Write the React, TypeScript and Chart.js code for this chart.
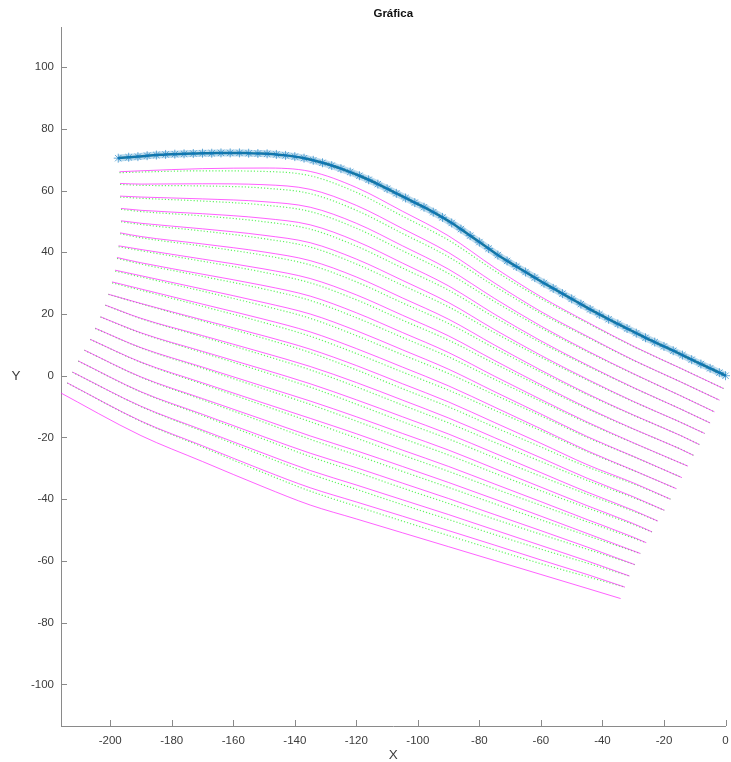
import React, { useEffect, useRef } from 'react';
import { Chart, registerables } from 'chart.js';

Chart.register(...registerables);

const TITLE = 'Gráfica';
const X_LABEL = 'X';
const Y_LABEL = 'Y';

const X_RANGE = [-216, 0];
const Y_RANGE = [-113.5, 113];
const X_TICKS = [-200, -180, -160, -140, -120, -100, -80, -60, -40, -20, 0];
const Y_TICKS = [-100, -80, -60, -40, -20, 0, 20, 40, 60, 80, 100];

// Main trajectory (blue asterisks)
const BASE_X = [-197.4, -194, -191, -188, -185, -182, -179, -176, -173, -170, -167, -164, -161, -158, -155, -152, -149, -146, -143, -140, -137, -134, -131, -128, -125, -122, -119, -116, -113, -110, -107, -104, -101, -98, -95, -92, -89, -86, -83, -80, -77, -74, -71, -68, -65, -62, -59, -56, -53, -50, -47, -44, -41, -38, -35, -32, -29, -26, -23, -20, -17, -14, -11, -8, -5, -2, 0];
const BASE_Y = [70.5, 70.8, 71.0, 71.3, 71.5, 71.7, 71.8, 71.9, 72.0, 72.1, 72.1, 72.2, 72.2, 72.2, 72.1, 72.0, 71.9, 71.7, 71.4, 71.0, 70.5, 69.8, 69.0, 68.1, 67.1, 66.0, 64.8, 63.5, 62.1, 60.6, 59.1, 57.6, 56.1, 54.6, 53.0, 51.3, 49.5, 47.5, 45.4, 43.3, 41.2, 39.1, 37.2, 35.4, 33.6, 31.8, 30.0, 28.3, 26.6, 24.9, 23.2, 21.5, 19.9, 18.3, 16.8, 15.3, 13.8, 12.3, 10.9, 9.5, 8.1, 6.7, 5.2, 3.8, 2.4, 1.0, 0.0];

// Offset lines (magenta): start point, values at shared x columns, end point
const LINE_COLS = [-190, -170, -150, -135, -120, -105, -90, -75, -60, -45, -30, -15];
const LINE_STARTS = [
  [-197.0, 66.1], [-196.8, 62.3], [-196.8, 58.2], [-196.5, 54.2], [-196.5, 50.2],
  [-196.8, 46.3], [-197.3, 42.1], [-197.8, 38.3], [-198.4, 34.2], [-199.4, 30.4],
  [-200.6, 26.4], [-201.6, 22.9], [-203.2, 19.1], [-204.9, 15.4], [-206.5, 11.8],
  [-208.4, 8.3], [-210.4, 4.8], [-212.3, 1.2], [-214.0, -2.3], [-217.5, -4.8],
];
const LINE_ENDS = [
  [-0.65, -4.15], [-2.0, -7.9], [-3.6, -11.7], [-5.0, -15.3], [-6.8, -18.7],
  [-8.5, -22.3], [-10.4, -25.8], [-12.2, -29.3], [-14.2, -33.0], [-16.0, -36.6],
  [-17.9, -40.0], [-19.9, -43.6], [-22.0, -47.1], [-23.9, -50.6], [-25.8, -54.1],
  [-27.7, -57.6], [-29.5, -61.2], [-31.2, -64.9], [-32.7, -68.5], [-34.1, -72.2],
];
const LINE_VALUES: (number | null)[][] = [
  [66.4, 67.1, 67.3, 66.2, 61.0, 53.3, 45.3, 35.0, 25.6, 17.4, 9.6, 2.6],
  [62.1, 62.2, 61.9, 60.4, 55.2, 47.7, 39.9, 30.0, 20.8, 12.8, 5.1, -1.8],
  [57.9, 57.3, 56.4, 54.6, 49.4, 42.1, 34.5, 25.0, 16.1, 8.1, 0.7, -6.3],
  [53.6, 52.5, 51.0, 48.9, 43.6, 36.5, 29.1, 19.9, 11.3, 3.5, -3.8, -10.6],
  [49.4, 47.6, 45.5, 43.1, 37.8, 30.9, 23.7, 14.9, 6.6, -1.1, -8.3, -14.9],
  [45.1, 42.7, 40.1, 37.3, 32.0, 25.2, 18.3, 9.9, 1.8, -5.8, -12.7, -19.2],
  [40.9, 37.8, 34.6, 31.5, 26.2, 19.6, 12.9, 4.9, -2.9, -10.4, -17.2, -23.6],
  [36.6, 32.9, 29.2, 25.8, 20.4, 14.0, 7.5, -0.2, -7.7, -15.0, -21.7, null],
  [32.4, 28.1, 23.7, 20.0, 14.6, 8.4, 2.1, -5.2, -12.4, -19.7, -26.1, null],
  [28.1, 23.2, 18.3, 14.2, 8.8, 2.8, -3.3, -10.2, -17.2, -24.3, -30.6, null],
  [23.4, 18.1, 12.9, 8.6, 3.3, -2.6, -8.5, -15.2, -21.9, -28.8, -34.7, null],
  [18.6, 13.0, 7.4, 3.0, -2.2, -7.9, -13.7, -20.1, -26.6, -33.2, -39.2, null],
  [13.9, 7.9, 2.0, -2.6, -7.8, -13.3, -18.9, -25.1, -31.4, -37.7, -43.6, null],
  [9.1, 2.8, -3.5, -8.2, -13.3, -18.7, -24.1, -30.1, -36.1, -42.1, -47.9, null],
  [4.4, -2.3, -8.9, -13.8, -18.8, -24.1, -29.4, -35.1, -40.8, -46.6, -52.3, null],
  [-0.4, -7.4, -14.3, -19.5, -24.3, -29.4, -34.6, -40.0, -45.5, -51.1, null, null],
  [-5.2, -12.5, -19.8, -25.1, -29.8, -34.8, -39.8, -45.0, -50.2, -55.5, null, null],
  [-9.9, -17.6, -25.2, -30.7, -35.4, -40.2, -45.0, -50.0, -55.0, -60.0, null, null],
  [-14.7, -22.7, -30.7, -36.3, -40.9, -45.5, -50.2, -54.9, -59.7, -64.4, null, null],
  [-19.4, -27.8, -36.1, -41.9, -46.4, -50.9, -55.4, -59.9, -64.4, -68.9, null, null],
];

// Green dotted companions: how far each sits below its magenta line (same columns)
const GREEN_GAP_UPPER = [0.4, 0.7, 1.1, 1.4, 1.6, 1.6, 1.4, 1.0, 0.6, 0.3, 0.1, 0.0];
const GREEN_GAP_LOWER = [0.1, 0.4, 0.8, 1.1, 1.4, 1.6, 1.6, 1.5, 1.2, 0.7, 0.3, 0.0];
const GREEN_START_GAP_UPPER = 0.3;
const GREEN_START_GAP_LOWER = 0.05;
const GREEN_COUNT = 19;

const FONT = '"Liberation Sans", Arial, Helvetica, sans-serif';
const AXIS_COLOR = '#8a8a8a';
const TEXT_COLOR = '#3c3c3c';

const decorPlugin = {
  id: 'decor',
  afterDraw(chart: any) {
    const { ctx, chartArea: a, scales } = chart;
    ctx.save();
    ctx.strokeStyle = AXIS_COLOR;
    ctx.lineWidth = 1;
    ctx.beginPath();
    X_TICKS.forEach((v) => {
      const px = Math.round(scales.x.getPixelForValue(v)) + 0.5;
      ctx.moveTo(px, a.bottom);
      ctx.lineTo(px, a.bottom - 6);
    });
    Y_TICKS.forEach((v) => {
      const py = Math.round(scales.y.getPixelForValue(v)) + 0.5;
      ctx.moveTo(a.left, py);
      ctx.lineTo(a.left + 6, py);
    });
    ctx.stroke();
    ctx.textAlign = 'center';
    ctx.textBaseline = 'middle';
    ctx.fillStyle = '#111';
    ctx.font = `bold 11.5px ${FONT}`;
    ctx.fillText(TITLE, (a.left + a.right) / 2, 14);
    ctx.fillStyle = TEXT_COLOR;
    ctx.font = `13.5px ${FONT}`;
    ctx.fillText(X_LABEL, (a.left + a.right) / 2, 755);
    ctx.fillText(Y_LABEL, 16, (a.top + a.bottom) / 2);
    ctx.restore();
  },
};

export default function App() {
  const ref = useRef<HTMLCanvasElement>(null);
  useEffect(() => {
    document.body.style.margin = '0';
    const datasets: any[] = [];
    const magenta: any[] = [];
    const green: any[] = [];
    LINE_VALUES.forEach((vals, i) => {
      const pts = [{ x: LINE_STARTS[i][0], y: LINE_STARTS[i][1] }];
      LINE_COLS.forEach((c, j) => {
        const v = vals[j];
        if (v !== null) pts.push({ x: c, y: v });
      });
      pts.push({ x: LINE_ENDS[i][0], y: LINE_ENDS[i][1] });
      magenta.push({
        data: pts,
        showLine: true,
        borderColor: 'rgba(255,30,255,0.7)',
        borderWidth: 1,
        pointRadius: 0,
        cubicInterpolationMode: 'monotone',
      });
      if (i < GREEN_COUNT) {
        const upper = i < 10;
        const gaps = upper ? GREEN_GAP_UPPER : GREEN_GAP_LOWER;
        const g0 = upper ? GREEN_START_GAP_UPPER : GREEN_START_GAP_LOWER;
        const gpts = [{ x: LINE_STARTS[i][0], y: LINE_STARTS[i][1] - g0 }];
        LINE_COLS.forEach((c, j) => {
          const v = vals[j];
          if (v !== null) gpts.push({ x: c, y: v - gaps[j] });
        });
        gpts.push({ x: LINE_ENDS[i][0], y: LINE_ENDS[i][1] });
        green.push({
          data: gpts,
          showLine: true,
          borderColor: 'rgba(60,240,60,0.8)',
          borderWidth: 1.2,
          borderDash: [1.2, 2],
          pointRadius: 0,
          cubicInterpolationMode: 'monotone',
        });
      }
    });
    datasets.push(...magenta, ...green);
    const basePts = BASE_X.map((x, i) => ({ x, y: BASE_Y[i] }));
    // soft halo of the dense asterisk band
    datasets.push({
      data: basePts,
      showLine: true,
      borderColor: 'rgba(40,140,200,0.3)',
      borderWidth: 7,
      pointRadius: 0,
      cubicInterpolationMode: 'monotone',
      clip: false,
    });
    datasets.push({
      data: basePts,
      showLine: true,
      borderColor: '#0e6d93',
      borderWidth: 2.5,
      pointStyle: 'star',
      pointRadius: 4.5,
      pointBorderWidth: 1,
      pointBorderColor: 'rgba(0,114,189,0.6)',
      pointBackgroundColor: 'rgba(0,114,189,0.6)',
      cubicInterpolationMode: 'monotone',
      clip: false,
    });

    const tickFont = { family: FONT, size: 11.5 };
    const chart = new Chart(ref.current as HTMLCanvasElement, {
      type: 'scatter',
      data: { datasets },
      plugins: [decorPlugin],
      options: {
        responsive: false,
        animation: false,
        events: [],
        layout: { padding: { top: 27, right: 4, left: 0, bottom: 0 } },
        plugins: { legend: { display: false }, tooltip: { enabled: false }, title: { display: false } },
        scales: {
          x: {
            type: 'linear',
            min: X_RANGE[0],
            max: X_RANGE[1],
            afterFit: (s: any) => { s.height = 36; s.paddingLeft = 0; s.paddingRight = 0; },
            afterBuildTicks: (s: any) => { s.ticks = X_TICKS.map((v) => ({ value: v })); },
            grid: { display: true, drawOnChartArea: false, drawTicks: false },
            border: { display: true, color: AXIS_COLOR, width: 1 },
            ticks: { color: TEXT_COLOR, font: tickFont, padding: 8, maxRotation: 0, autoSkip: false },
          },
          y: {
            type: 'linear',
            min: Y_RANGE[0],
            max: Y_RANGE[1],
            afterFit: (s: any) => { s.width = 61; s.paddingTop = 0; s.paddingBottom = 0; },
            afterBuildTicks: (s: any) => { s.ticks = Y_TICKS.map((v) => ({ value: v })); },
            grid: { display: true, drawOnChartArea: false, drawTicks: false },
            border: { display: true, color: AXIS_COLOR, width: 1 },
            ticks: { color: TEXT_COLOR, font: tickFont, padding: 7, autoSkip: false },
          },
        },
      } as any,
    });
    return () => chart.destroy();
  }, []);
  return (
    <div style={{ width: 731, height: 762 }}>
      <canvas ref={ref} width={731} height={762} style={{ display: 'block' }} />
    </div>
  );
}
